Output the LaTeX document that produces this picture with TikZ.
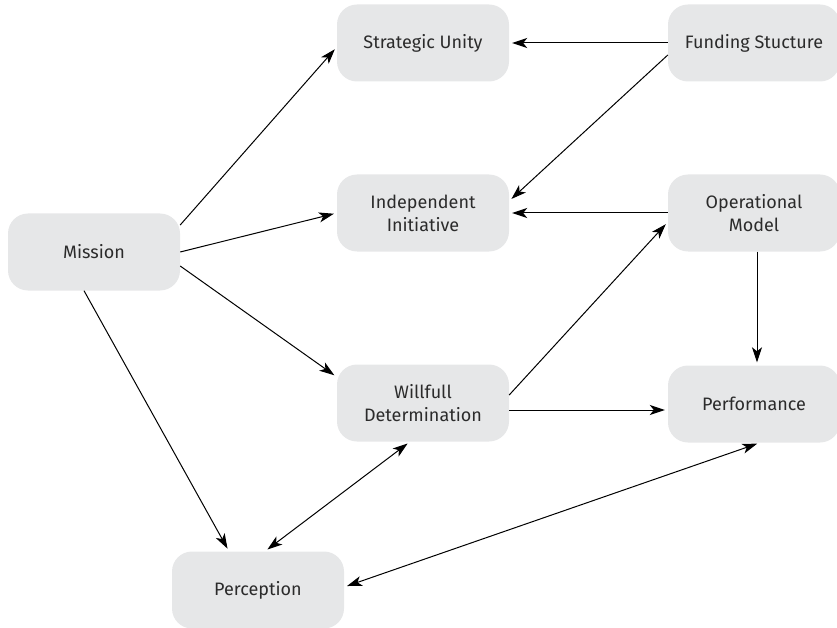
\documentclass[tikz,border=0pt]{standalone}
\usepackage{fontspec}
\setmainfont{Fira Sans}
\usetikzlibrary{arrows.meta}
\definecolor{boxgray}{HTML}{E6E7E8}
\definecolor{textgray}{HTML}{2B2B2B}
\tikzset{
    tip/.tip={Stealth[length=15pt,width=10pt,inset=4pt]},
    box/.style={fill=boxgray, rounded corners=20pt, minimum height=77pt, minimum width=172pt,
        align=center, text=textgray, font=\fontsize{18}{23}\selectfont},
    link/.style={line width=1pt, -tip, shorten >=3pt},
    both/.style={link, tip-tip, shorten <=3pt}
}

\begin{document}
\begin{tikzpicture}[x=1pt, y=-1pt]
    \useasboundingbox (0,0) rectangle (837,628);
    \node[box] (mission) at (94,252) {Mission};
    \node[box] (strat) at (423,43) {Strategic Unity};
    \node[box] (indep) at (423,213) {Independent\\Initiative};
    \node[box] (will) at (423,403) {Willfull\\Determination};
    \node[box] (perc) at (258,590) {Perception};
    \node[box] (fund) at (754,43) {Funding Stucture};
    \node[box] (oper) at (754,213) {Operational\\Model};
    \node[box] (perf) at (754,404) {Performance};

    \draw[link] ([yshift=27pt]mission.east) -- ([yshift=-4pt]strat.west);
    \draw[link] (mission.east) -- (indep.west);
    \draw[link] ([yshift=-14pt]mission.east) -- ([yshift=26pt]will.west);
    \draw[link] ([xshift=-10pt]mission.south) -- ([xshift=-29pt]perc.north);
    \draw[link] (fund.west) -- (strat.east);
    \draw[link] ([yshift=-12pt]fund.west) -- ([yshift=12pt]indep.east);
    \draw[link] (oper.west) -- (indep.east);
    \draw[link] ([yshift=8pt]will.east) -- ([yshift=-9pt]oper.west);
    \draw[link] ([xshift=3pt]oper.south) -- ([xshift=3pt]perf.north);
    \draw[link] ([yshift=-7pt]will.east) -- ([yshift=-6pt]perf.west);
    \draw[both] ([xshift=-13pt]will.south) -- ([xshift=7pt]perc.north);
    \draw[both] ([xshift=6pt]perf.south) -- ([yshift=3pt]perc.east);
\end{tikzpicture}
\end{document}
